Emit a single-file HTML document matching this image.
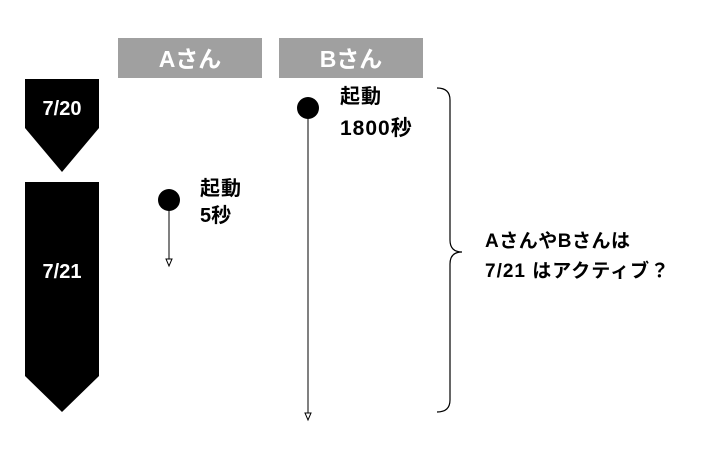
<!DOCTYPE html>
<html><head><meta charset="utf-8"><style>
body{margin:0;background:#fff;width:708px;height:450px;overflow:hidden}
svg text{font-family:"Liberation Sans","Noto Sans CJK JP",sans-serif;font-weight:bold}
</style></head><body>
<svg width="708" height="450" xmlns="http://www.w3.org/2000/svg">
<rect x="118" y="38" width="144" height="40" fill="#a0a0a0"/>
<rect x="279" y="38" width="144" height="40" fill="#a0a0a0"/>
<text x="190" y="67" font-size="23" fill="#fff" text-anchor="middle">Aさん</text>
<text x="351" y="67" font-size="23" fill="#fff" text-anchor="middle">Bさん</text>
<polygon points="25,79 99,79 99,128 62,172 25,128" fill="#000"/>
<polygon points="25,182 99,182 99,376 62,412 25,376" fill="#000"/>
<text x="62" y="115" font-size="20" fill="#fff" text-anchor="middle">7/20</text>
<text x="62" y="278" font-size="20" fill="#fff" text-anchor="middle">7/21</text>
<circle cx="169" cy="200" r="11" fill="#000"/>
<line x1="169" y1="200" x2="169" y2="260" stroke="#000" stroke-width="1"/>
<polygon points="166,259 172,259 169,266" fill="#fff" stroke="#000" stroke-width="1"/>
<circle cx="308" cy="108" r="11" fill="#000"/>
<line x1="308" y1="108" x2="308" y2="414" stroke="#000" stroke-width="1"/>
<polygon points="305,413 311,413 308,420" fill="#fff" stroke="#000" stroke-width="1"/>
<text x="200" y="195" font-size="20" letter-spacing="1">起動</text>
<text x="200" y="222" font-size="20">5秒</text>
<text x="340" y="103" font-size="20" letter-spacing="1">起動</text>
<text x="340" y="135" font-size="21" letter-spacing="1">1800秒</text>
<path d="M437,88 Q450,88 450,100 L450,240 Q450,252 462,252 Q450,252 450,264 L450,400 Q450,412 437,412" fill="none" stroke="#000" stroke-width="1.2"/>
<text x="485" y="247" font-size="19" letter-spacing="0.5">AさんやBさんは</text>
<text x="485" y="277" font-size="19" letter-spacing="1">7/21 はアクティブ？</text>
</svg>
</body></html>
